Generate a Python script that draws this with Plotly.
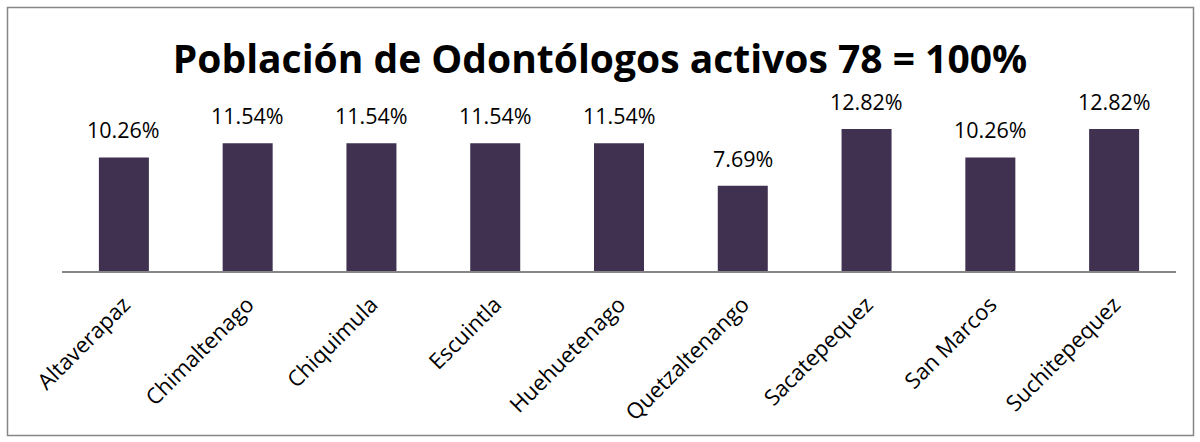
import plotly.graph_objects as go

categories = ["Altaverapaz", "Chimaltenago", "Chiquimula", "Escuintla", "Huehuetenago",
              "Quetzaltenango", "Sacatepequez", "San Marcos", "Suchitepequez"]
values = [10.26, 11.54, 11.54, 11.54, 11.54, 7.69, 12.82, 10.26, 12.82]
title_text = "Población de Odontólogos activos 78 = 100%"

W, H = 1200, 442
ml, mr, mt, mb = 62, 24, 116, 171
pw = W - ml - mr
ph = H - mt - mb
FONT = "Open Sans, sans-serif"

def px_to_paper_x(x):
    return (x - ml) / pw

def px_to_paper_y(y):
    return (H - mb - y) / ph

fig = go.Figure(go.Bar(
    x=categories, y=values,
    marker=dict(color="#403151", line=dict(width=0)),
    cliponaxis=False,
))

annotations = [
    dict(x=c, y=v, xref="x", yref="y", text=f"{v:.2f}%", showarrow=False,
         yanchor="bottom", xanchor="center", yshift=11,
         font=dict(family=FONT, size=21.5, color="#000000"))
    for c, v in zip(categories, values)
]

fig.update_layout(
    width=W, height=H,
    margin=dict(l=ml, r=mr, t=mt, b=mb, autoexpand=False),
    paper_bgcolor="white", plot_bgcolor="white",
    showlegend=False,
    bargap=0.596,
    title=dict(text="<b>" + title_text + "</b>", x=0.5, xanchor="center",
               y=1 - 59 / H, yanchor="middle",
               font=dict(family=FONT, size=39, color="#000000")),
    xaxis=dict(showline=True, linecolor="#868686", linewidth=2, ticks="",
               tickangle=-45, tickfont=dict(family=FONT, size=22, color="#000000"),
               ticklabelstandoff=10,
               showgrid=False, automargin=False),
    yaxis=dict(range=[0, 14], visible=False, showgrid=False),
    annotations=annotations,
    shapes=[dict(type="rect", xref="paper", yref="paper",
                 x0=px_to_paper_x(7.5), x1=px_to_paper_x(1193.5),
                 y0=px_to_paper_y(435.5), y1=px_to_paper_y(7.5),
                 line=dict(color="#868686", width=1.5), fillcolor="rgba(0,0,0,0)", layer="below")],
)

fig.write_html("out.html", config={"displayModeBar": False},
               post_script="document.body.style.margin='0';")
